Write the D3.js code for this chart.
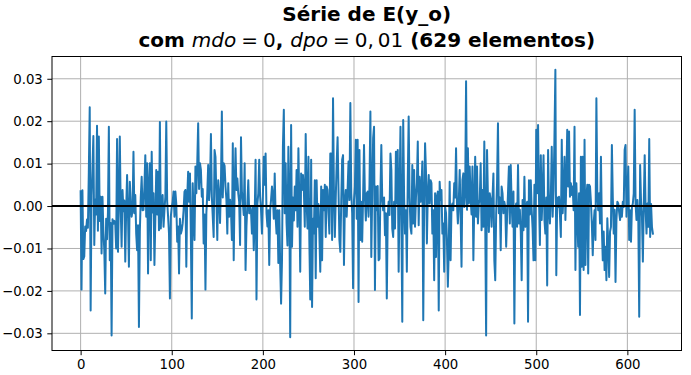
<!DOCTYPE html>
<html>
<head>
<meta charset="utf-8">
<script src="https://cdn.jsdelivr.net/npm/d3@7"></script>
<style>
  html, body { margin: 0; padding: 0; background: #fff; }
  svg { display: block; }
  text { font-family: "DejaVu Sans", sans-serif; }
</style>
</head>
<body>
<svg id="chart" width="691" height="375"></svg>
<script>
// ---- data ----
const titleLine1 = "Série de E(y_o)";
const nElements = 629;
const xTicks = [0, 100, 200, 300, 400, 500, 600];
const yTicks = [-0.03, -0.02, -0.01, 0.00, 0.01, 0.02, 0.03];
const yTickLabels = ["\u22120.03", "\u22120.02", "\u22120.01", "0.00", "0.01", "0.02", "0.03"];
const zeroLine = 0;
const seriesE = [
0.0035, -0.0197, 0.0037, -0.0125, -0.0119, -0.0048, -0.0059, -0.0032, -0.0051, 0.0080,
0.0233, -0.0246, 0.0025, 0.0090, 0.0165, -0.0092, 0.0015, -0.0020, 0.0189, -0.0058,
0.0164, -0.0035, 0.0022, -0.0112, 0.0022, -0.0060, -0.0104, -0.0206, -0.0030, -0.0078,
-0.0015, 0.0187, -0.0128, -0.0040, -0.0305, -0.0031, -0.0042, -0.0035, -0.0040, -0.0100,
0.0158, -0.0108, 0.0010, 0.0164, -0.0005, -0.0096, 0.0038, -0.0012, 0.0013, -0.0131,
-0.0008, 0.0073, -0.0020, -0.0143, 0.0057, 0.0008, -0.0025, -0.0010, 0.0128, -0.0017,
0.0026, -0.0065, -0.0104, -0.0045, -0.0285, -0.0060, 0.0020, 0.0069, -0.0010, -0.0009,
0.0045, 0.0120, -0.0025, 0.0101, -0.0159, 0.0050, 0.0101, -0.0128, 0.0128, -0.0015,
0.0030, -0.0139, -0.0030, 0.0085, -0.0020, 0.0081, -0.0057, 0.0198, -0.0053, 0.0010,
0.0026, -0.0049, -0.0010, 0.0022, 0.0199, 0.0010, -0.0025, -0.0065, -0.0218, -0.0025,
-0.0002, 0.0010, 0.0034, -0.0025, 0.0034, 0.0005, -0.0084, -0.0048, -0.0159, -0.0030,
-0.0065, -0.0057, -0.0041, -0.0010, 0.0034, 0.0038, -0.0143, 0.0020, 0.0081, 0.0010,
0.0077, -0.0073, -0.0265, 0.0054, -0.0020, -0.0080, 0.0093, 0.0030, 0.0101, 0.0195,
0.0040, 0.0101, 0.0085, 0.0022, 0.0040, -0.0088, -0.0020, -0.0197, -0.0017, 0.0030,
0.0097, 0.0014, 0.0050, 0.0170, 0.0022, -0.0025, -0.0073, 0.0132, 0.0116, 0.0020,
-0.0080, 0.0061, 0.0030, -0.0040, 0.0050, 0.0223, 0.0020, 0.0101, 0.0095, 0.0046,
0.0015, -0.0065, 0.0054, -0.0025, 0.0015, -0.0009, -0.0080, 0.0148, -0.0128, 0.0040,
0.0136, 0.0038, 0.0065, 0.0030, 0.0010, -0.0092, 0.0162, 0.0034, 0.0010, -0.0021,
0.0101, -0.0151, -0.0049, 0.0005, 0.0061, -0.0017, 0.0000, -0.0013, -0.0065, 0.0000,
-0.0104, -0.0030, 0.0109, -0.0220, 0.0005, 0.0030, 0.0109, 0.0022, -0.0010, -0.0065,
0.0022, 0.0116, 0.0050, 0.0124, -0.0017, -0.0048, -0.0010, -0.0139, -0.0010, 0.0015,
0.0046, 0.0022, -0.0030, 0.0077, -0.0025, -0.0065, -0.0010, -0.0134, -0.0010, -0.0140,
-0.0230, -0.0128, 0.0140, 0.0227, -0.0017, 0.0101, -0.0040, -0.0093, 0.0140, 0.0030,
-0.0309, 0.0191, -0.0096, 0.0020, -0.0034, 0.0046, -0.0010, 0.0085, -0.0049, 0.0136,
0.0010, -0.0155, 0.0077, 0.0038, 0.0073, 0.0038, -0.0049, 0.0170, 0.0010, -0.0053,
0.0116, -0.0080, -0.0220, 0.0109, -0.0238, -0.0030, -0.0065, 0.0061, -0.0170, 0.0061,
-0.0049, 0.0005, -0.0065, -0.0155, 0.0046, -0.0128, 0.0038, -0.0010, 0.0050, -0.0073,
0.0046, 0.0038, -0.0017, -0.0065, 0.0124, 0.0124, -0.0080, 0.0254, 0.0030, -0.0073,
0.0020, 0.0101, 0.0162, 0.0038, -0.0080, -0.0108, 0.0010, 0.0109, 0.0120, -0.0139,
0.0010, 0.0038, -0.0025, 0.0040, 0.0105, 0.0014, 0.0243, 0.0030, -0.0017, -0.0194,
0.0014, 0.0046, 0.0156, -0.0030, 0.0156, -0.0226, 0.0132, -0.0080, 0.0010, -0.0084,
0.0022, 0.0144, 0.0020, -0.0034, 0.0030, 0.0034, -0.0025, 0.0050, 0.0223, -0.0120,
0.0030, 0.0160, 0.0187, -0.0198, 0.0046, -0.0010, 0.0047, -0.0128, -0.0124, 0.0030,
0.0144, 0.0014, -0.0010, 0.0020, -0.0069, -0.0017, -0.0218, -0.0025, 0.0010, -0.0021,
0.0124, 0.0085, -0.0053, -0.0073, 0.0010, -0.0053, 0.0128, 0.0006, 0.0132, -0.0155,
0.0030, 0.0187, -0.0033, -0.0273, 0.0203, 0.0020, -0.0065, -0.0010, -0.0155, 0.0061,
0.0211, 0.0020, -0.0049, -0.0065, 0.0097, -0.0041, 0.0085, -0.0049, 0.0020, 0.0054,
0.0152, -0.0045, 0.0069, 0.0010, 0.0038, 0.0105, -0.0269, 0.0006, 0.0148, 0.0081,
-0.0088, 0.0030, 0.0073, 0.0006, 0.0061, 0.0054, -0.0065, -0.0010, -0.0175, 0.0030,
-0.0120, 0.0022, 0.0034, -0.0246, 0.0057, 0.0014, 0.0038, -0.0065, -0.0041, -0.0155,
-0.0002, -0.0017, -0.0080, -0.0190, -0.0104, 0.0057, -0.0128, -0.0002, 0.0006, -0.0010,
0.0054, 0.0020, 0.0136, 0.0006, -0.0041, 0.0010, 0.0085, -0.0025, -0.0143, 0.0061,
0.0077, -0.0002, 0.0030, 0.0294, -0.0009, 0.0136, 0.0006, 0.0093, 0.0018, -0.0020,
0.0093, -0.0128, 0.0006, 0.0116, -0.0025, 0.0093, -0.0041, 0.0006, 0.0015, 0.0101,
-0.0057, 0.0038, -0.0049, 0.0152, -0.0030, -0.0305, 0.0132, 0.0020, -0.0061, 0.0030,
0.0014, -0.0049, 0.0020, 0.0077, -0.0128, -0.0175, -0.0020, 0.0054, 0.0195, -0.0017,
0.0020, -0.0104, 0.0046, 0.0030, -0.0017, 0.0010, -0.0002, -0.0096, -0.0025, 0.0030,
0.0093, -0.0041, 0.0097, 0.0006, -0.0049, 0.0034, -0.0277, -0.0010, 0.0006, -0.0049,
0.0097, -0.0041, -0.0009, -0.0060, -0.0175, 0.0014, -0.0057, 0.0069, -0.0049, -0.0002,
0.0010, -0.0273, 0.0061, -0.0020, 0.0061, -0.0009, -0.0053, -0.0128, 0.0050, -0.0128,
0.0180, 0.0030, 0.0191, 0.0020, -0.0092, 0.0120, -0.0033, 0.0030, 0.0120, -0.0033,
-0.0065, 0.0020, -0.0187, 0.0132, 0.0000, -0.0041, 0.0020, 0.0140, -0.0025, 0.0038,
0.0164, 0.0321, -0.0163, 0.0020, -0.0002, 0.0022, -0.0020, -0.0073, 0.0156, -0.0017,
0.0030, 0.0116, -0.0033, 0.0057, 0.0180, 0.0046, 0.0176, 0.0022, 0.0054, 0.0026,
0.0046, -0.0010, 0.0187, -0.0151, 0.0054, -0.0020, -0.0096, 0.0030, -0.0257, 0.0116,
-0.0143, 0.0116, -0.0151, 0.0156, -0.0139, 0.0020, 0.0050, -0.0159, 0.0050, 0.0046,
0.0010, -0.0041, -0.0116, -0.0041, -0.0010, -0.0080, 0.0254, 0.0030, -0.0010, 0.0030,
-0.0041, 0.0116, -0.0049, -0.0128, -0.0060, -0.0151, -0.0096, -0.0175, -0.0029, -0.0088,
-0.0167, -0.0060, -0.0049, 0.0144, 0.0020, -0.0065, -0.0009, -0.0179, -0.0033, 0.0010,
0.0006, -0.0015, -0.0033, -0.0002, -0.0025, 0.0010, -0.0002, 0.0132, 0.0144, -0.0025,
0.0030, 0.0093, -0.0080, -0.0010, -0.0084, -0.0002, 0.0006, 0.0030, 0.0227, 0.0006,
-0.0033, 0.0014, -0.0030, -0.0261, 0.0097, 0.0010, -0.0025, -0.0131, 0.0005, 0.0120,
-0.0009, -0.0065, 0.0006, -0.0049, 0.0158, -0.0073, 0.0005, -0.0050, -0.0065
];

// ---- layout ----
const W = 691, H = 375;
const plot = { left: 52, right: 681.5, top: 56.5, bottom: 350.5 };
const tickFont = 13.3;

const svg = d3.select("#chart");

const idx = seriesE.map((d, i) => i);
const xPad = (idx.length - 1) * 0.05;
const x = d3.scaleLinear()
  .domain([0 - xPad, idx.length - 1 + xPad])
  .range([plot.left, plot.right]);
const [yMin, yMax] = d3.extent(seriesE);
const yPad = (yMax - yMin) * 0.05;
const y = d3.scaleLinear()
  .domain([yMin - yPad, yMax + yPad])
  .range([plot.bottom, plot.top]);

// grid
const grid = svg.append("g");
grid.selectAll("line.gx").data(xTicks).join("line")
  .attr("x1", d => x(d)).attr("x2", d => x(d))
  .attr("y1", plot.top).attr("y2", plot.bottom)
  .attr("stroke", "#b0b0b0").attr("stroke-width", 1);
grid.selectAll("line.gy").data(yTicks).join("line")
  .attr("class", "gy")
  .attr("x1", plot.left).attr("x2", plot.right)
  .attr("y1", d => y(d)).attr("y2", d => y(d))
  .attr("stroke", "#b0b0b0").attr("stroke-width", 1);

// clip
svg.append("clipPath").attr("id", "clip").append("rect")
  .attr("x", plot.left).attr("y", plot.top)
  .attr("width", plot.right - plot.left).attr("height", plot.bottom - plot.top);

// series line
const line = d3.line().x((d, i) => x(idx[i])).y(d => y(d));
svg.append("path")
  .datum(seriesE)
  .attr("clip-path", "url(#clip)")
  .attr("d", line)
  .attr("fill", "none")
  .attr("stroke", "#1f77b4")
  .attr("stroke-width", 2)
  .attr("stroke-linejoin", "round")
  .attr("stroke-linecap", "square");

// zero line
svg.append("line")
  .attr("x1", plot.left).attr("x2", plot.right)
  .attr("y1", y(zeroLine)).attr("y2", y(zeroLine))
  .attr("stroke", "#000").attr("stroke-width", 2);

// axes
const xAxis = d3.axisBottom(x).tickValues(xTicks).tickFormat(d3.format("d"))
  .tickSizeOuter(0).tickSizeInner(4.7).tickPadding(4.5);
const gx = svg.append("g").attr("transform", `translate(0,${plot.bottom})`).call(xAxis);
const yAxis = d3.axisLeft(y).tickValues(yTicks).tickFormat((d, i) => yTickLabels[i])
  .tickSizeOuter(0).tickSizeInner(4.7).tickPadding(4.5);
const gy = svg.append("g").attr("transform", `translate(${plot.left},0)`).call(yAxis);
[gx, gy].forEach(g => {
  g.select(".domain").remove();
  g.selectAll(".tick line").attr("stroke", "#000").attr("stroke-width", 1);
  g.selectAll(".tick text").attr("fill", "#000")
    .style("font-family", "'DejaVu Sans'").style("font-size", tickFont + "px");
});

// frame
svg.append("rect")
  .attr("x", plot.left).attr("y", plot.top)
  .attr("width", plot.right - plot.left).attr("height", plot.bottom - plot.top)
  .attr("fill", "none").attr("stroke", "#000").attr("stroke-width", 1);

// title
const cx = (plot.left + plot.right) / 2;
svg.append("text")
  .attr("x", cx).attr("y", 21)
  .attr("text-anchor", "middle")
  .style("font-size", "20px").style("font-weight", "bold")
  .text(titleLine1);

const t2 = svg.append("text")
  .attr("x", cx).attr("y", 47)
  .attr("text-anchor", "middle")
  .style("font-size", "20px");
const parts = [
  { t: "com ", w: "bold", s: "normal" },
  { t: "mdo", w: "normal", s: "italic" },
  { t: "\u2005=\u20050", w: "normal", s: "normal" },
  { t: ", ", w: "bold", s: "normal" },
  { t: "dpo", w: "normal", s: "italic" },
  { t: "\u2005=\u20050,\u200901", w: "normal", s: "normal" },
  { t: " (" + nElements + " elementos)", w: "bold", s: "normal" }
];
t2.selectAll("tspan").data(parts).join("tspan")
  .style("font-weight", d => d.w)
  .style("font-style", d => d.s)
  .text(d => d.t);
</script>
</body>
</html>
